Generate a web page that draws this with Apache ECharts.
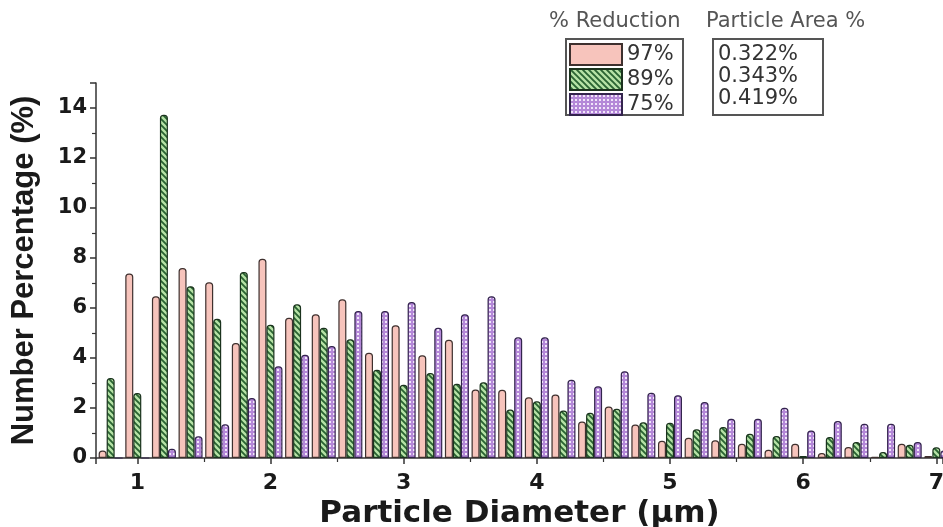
<!DOCTYPE html>
<html>
<head>
<meta charset="utf-8">
<style>
  html, body { margin: 0; padding: 0; background: #ffffff; }
  #chart { width: 943px; height: 527px; }
</style>
<script src="https://cdn.jsdelivr.net/npm/echarts@6/dist/echarts.min.js"></script>
</head>
<body>
<div id="chart"></div>
<script>
// Particle size bins (µm, bin centres)
const diameters = [0.8, 1.0, 1.2, 1.4, 1.6, 1.8, 2.0, 2.2, 2.4, 2.6, 2.8, 3.0, 3.2, 3.4, 3.6, 3.8,
                   4.0, 4.2, 4.4, 4.6, 4.8, 5.0, 5.2, 5.4, 5.6, 5.8, 6.0, 6.2, 6.4, 6.6, 6.8, 7.0];

// Number percentage per bin for each reduction level
const red97 = [0.3, 7.38, 6.47, 7.6, 7.03, 4.6, 7.97, 5.61, 5.75, 6.35, 4.21, 5.31, 4.11, 4.73, 2.74, 2.73,
               2.43, 2.54, 1.46, 2.06, 1.34, 0.69, 0.81, 0.71, 0.57, 0.33, 0.57, 0.2, 0.44, 0.05, 0.57, 0.08];
const red89 = [3.2, 2.6, 13.73, 6.87, 5.57, 7.44, 5.33, 6.15, 5.21, 4.75, 3.53, 2.93, 3.4, 2.97, 3.03, 1.94,
               2.27, 1.9, 1.81, 1.97, 1.43, 1.41, 1.15, 1.24, 0.97, 0.88, 0.08, 0.84, 0.64, 0.24, 0.53, 0.43];
const red75 = [0, 0, 0.37, 0.87, 1.35, 2.4, 3.67, 4.13, 4.48, 5.88, 5.88, 6.24, 5.21, 5.75, 6.47, 4.83,
               4.83, 3.13, 2.87, 3.47, 2.61, 2.51, 2.24, 1.57, 1.57, 2.01, 1.1, 1.48, 1.37, 1.37, 0.64, 0.3];

const seriesNames = ['97%', '89%', '75%'];
const particleArea = ['0.322%', '0.343%', '0.419%'];
const legendTitles = ['% Reduction', 'Particle Area %'];

// Fill patterns: plain, diagonal hatch, dotted
function solidTile() {
  const c = document.createElement('canvas');
  c.width = 4; c.height = 4;
  const g = c.getContext('2d');
  g.fillStyle = '#f7c4bc';
  g.fillRect(0, 0, 4, 4);
  return c;
}
function hatchTile() {
  const c = document.createElement('canvas');
  c.width = 6; c.height = 6;
  const g = c.getContext('2d');
  g.fillStyle = '#b6e2a6';
  g.fillRect(0, 0, 6, 6);
  g.strokeStyle = '#2a6432';
  g.lineWidth = 1.9;
  g.beginPath();
  g.moveTo(-1, -1); g.lineTo(7, 7);
  g.moveTo(-1, 5); g.lineTo(1, 7);
  g.moveTo(5, -1); g.lineTo(7, 1);
  g.stroke();
  return c;
}
function dotTile() {
  const c = document.createElement('canvas');
  c.width = 4; c.height = 4;
  const g = c.getContext('2d');
  g.fillStyle = '#b488d8';
  g.fillRect(0, 0, 4, 4);
  g.fillStyle = '#f1e6fa';
  g.fillRect(1, 1, 2, 2);
  return c;
}

const fills = [
  { image: solidTile(), repeat: 'repeat' },
  { image: hatchTile(), repeat: 'repeat' },
  { image: dotTile(), repeat: 'repeat' }
];
const borders = ['#3e302e', '#1b331e', '#33244d'];
const values = [red97, red89, red75];

const chart = echarts.init(document.getElementById('chart'), null, { renderer: 'canvas' });

const series = seriesNames.map((name, k) => ({
  name: name,
  type: 'bar',
  barWidth: 8,
  barGap: '0%',
  data: diameters.map((d, i) => [d, values[k][i]]),
  itemStyle: {
    color: fills[k],
    borderColor: borders[k],
    borderWidth: 1.2,
    borderRadius: [3, 3, 0, 0]
  },
  emphasis: { disabled: true }
}));

const labelFont = 'DejaVu Sans';

chart.setOption({
  animation: false,
  backgroundColor: '#ffffff',
  grid: { left: 96, right: 0, top: 83, bottom: 69, containLabel: false, outerBoundsMode: 'none' },
  xAxis: {
    type: 'value',
    min: 0.69,
    max: 7.05,
    splitNumber: 6,
    name: 'Particle Diameter (µm)',
    nameLocation: 'middle',
    nameGap: 35,
    nameTextStyle: { fontFamily: labelFont, fontWeight: 'bold', fontSize: 31, color: '#1a1a1a', verticalAlign: 'top' },
    axisLine: { show: true, onZero: false, lineStyle: { color: '#333', width: 1.5 } },
    axisTick: { show: true, length: 6, lineStyle: { color: '#333', width: 1.5 } },
    minorTick: { show: true, splitNumber: 2, length: 4, lineStyle: { color: '#333', width: 1.2 } },
    axisLabel: { showMinLabel: false, showMaxLabel: false, margin: 14, fontFamily: labelFont, fontWeight: 'bold', fontSize: 22, color: '#1a1a1a' },
    splitLine: { show: false }
  },
  yAxis: {
    type: 'value',
    min: 0,
    max: 15,
    interval: 2,
    name: 'Number Percentage (%)',
    nameLocation: 'middle',
    nameGap: 56,
    nameRotate: 90,
    nameTextStyle: { fontFamily: 'Liberation Sans', fontWeight: 'bold', fontSize: 31, color: '#1a1a1a' },
    axisLine: { show: true, lineStyle: { color: '#333', width: 1.5 } },
    axisTick: { show: true, length: 6, lineStyle: { color: '#333', width: 1.5 } },
    minorTick: { show: true, splitNumber: 2, length: 4, lineStyle: { color: '#333', width: 1.2 } },
    axisLabel: { showMaxLabel: false, margin: 9, fontFamily: labelFont, fontWeight: 'bold', fontSize: 21, color: '#1a1a1a' },
    splitLine: { show: false }
  },
  legend: {
    orient: 'vertical',
    left: 569,
    top: 43,
    padding: 0,
    itemWidth: 52,
    itemHeight: 21,
    itemGap: 2,
    icon: 'rect',
    selectedMode: false,
    data: seriesNames,
    textStyle: { fontFamily: labelFont, fontSize: 21, color: '#333' }
  },
  graphic: [
    { type: 'rect', shape: { x: 566, y: 39, width: 117, height: 76 }, style: { fill: 'none', stroke: '#555', lineWidth: 2 } },
    { type: 'rect', shape: { x: 713, y: 39, width: 110, height: 76 }, style: { fill: 'none', stroke: '#555', lineWidth: 2 } },
    { type: 'text', x: 549, y: 22, style: { text: legendTitles[0], font: '21px "DejaVu Sans"', fill: '#555', verticalAlign: 'middle' } },
    { type: 'text', x: 706, y: 22, style: { text: legendTitles[1], font: '21px "DejaVu Sans"', fill: '#555', verticalAlign: 'middle' } },
    ...particleArea.map((t, i) => ({
      type: 'text', x: 718, y: 55 + i * 22,
      style: { text: t, font: '21px "DejaVu Sans"', fill: '#333', verticalAlign: 'middle' }
    }))
  ],
  series: series
});
</script>
</body>
</html>
